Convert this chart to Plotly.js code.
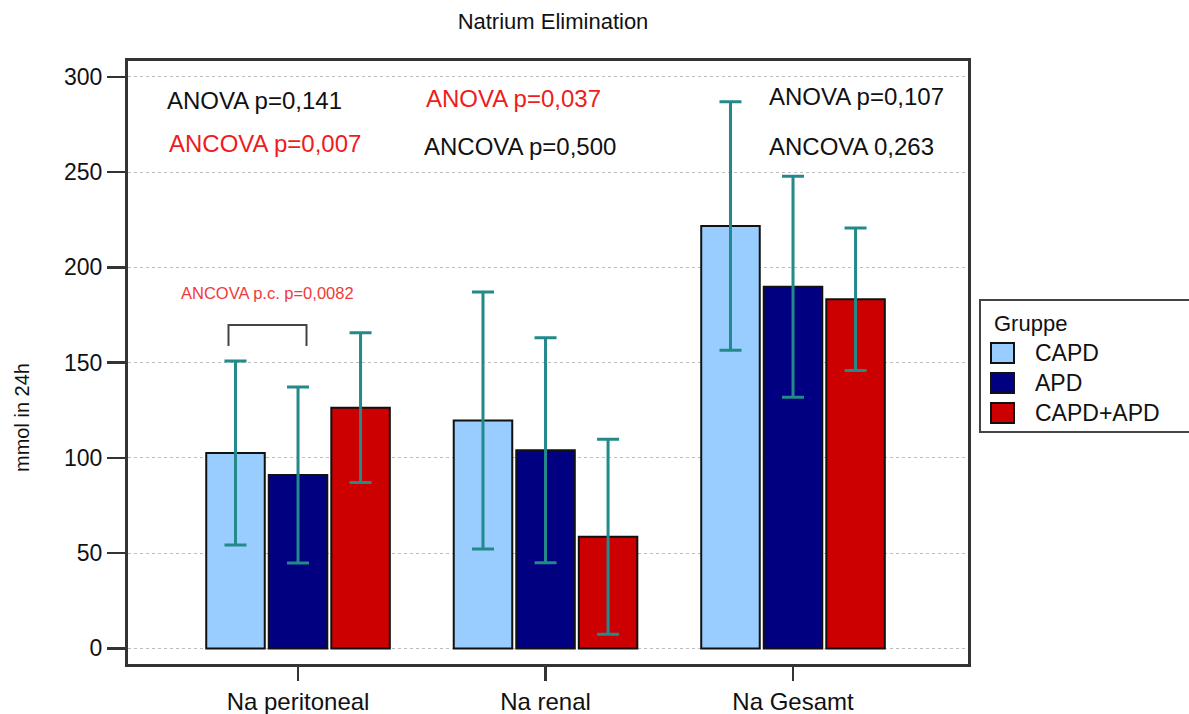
<!DOCTYPE html>
<html>
<head>
<meta charset="utf-8">
<script src="https://cdn.plot.ly/plotly-3.0.1.min.js"></script>
<style>html,body{margin:0;padding:0;background:#fff;}#chart{width:1189px;height:714px;}</style>
</head>
<body>
<div id="chart"></div>
<script>
// ---- data ----
const categories = ['Na peritoneal', 'Na renal', 'Na Gesamt'];
const groupNames = ['CAPD', 'APD', 'CAPD+APD'];
const capdMean  = [102.6, 119.6, 221.7];
const capdSD    = [48.3, 67.5, 65.2];
const apdMean   = [91.0, 104.0, 189.8];
const apdSD     = [46.2, 59.0, 58.0];
const comboMean = [126.3, 58.6, 183.2];
const comboSD   = [39.3, 51.2, 37.4];
const yTicks = [0, 50, 100, 150, 200, 250, 300];

// ---- styling ----
const FONT = '"Liberation Sans", Arial, sans-serif';
const colors = ['#99ccff', '#000080', '#cc0000'];
const errColor = '#23898a';
const L = 128, R = 968, T = 61, B = 664, W = 1189, H = 714;
const px = x => (x - L) / (R - L);
const py = y => (B - y) / (B - T);

const means = [capdMean, apdMean, comboMean];
const sds = [capdSD, apdSD, comboSD];

const traces = groupNames.map((g, i) => ({
  type: 'bar',
  name: g,
  x: categories,
  y: means[i],
  marker: {color: colors[i], line: {color: '#111', width: 2}},
  error_y: {type: 'data', array: sds[i], visible: true, color: errColor, thickness: 3, width: 11},
  showlegend: false,
  hoverinfo: 'x+y+name'
}));

const annotations = [
  {x: px(165), y: py(100), text: 'ANOVA p=0,141', color: '#111', size: 24},
  {x: px(167), y: py(143), text: 'ANCOVA p=0,007', color: '#ee1c1c', size: 24},
  {x: px(424), y: py(98), text: 'ANOVA p=0,037', color: '#ee1c1c', size: 24},
  {x: px(422), y: py(146), text: 'ANCOVA p=0,500', color: '#111', size: 24},
  {x: px(767), y: py(97), text: 'ANOVA p=0,107', color: '#111', size: 24},
  {x: px(767), y: py(146), text: 'ANCOVA 0,263', color: '#111', size: 24},
  {x: px(179), y: py(293), text: 'ANCOVA p.c. p=0,0082', color: '#f03a3a', size: 16.5}
].map(a => ({
  xref: 'paper', yref: 'paper', x: a.x, y: a.y, xanchor: 'left', yanchor: 'middle',
  text: a.text, showarrow: false, font: {family: FONT, size: a.size, color: a.color}
}));

// y axis title
annotations.push({
  xref: 'paper', yref: 'paper', x: px(22), y: py(418), xanchor: 'center', yanchor: 'middle',
  text: 'mmol in 24h', textangle: -90, showarrow: false, font: {family: FONT, size: 20, color: '#111'}
});

// bracket + custom legend
const shapes = [
  {type: 'path', xref: 'paper', yref: 'paper',
   path: `M${px(228.5)},${py(346)} L${px(228.5)},${py(325)} L${px(306.5)},${py(325)} L${px(306.5)},${py(346)}`,
   line: {color: '#444', width: 2}},
  {type: 'rect', xref: 'paper', yref: 'paper', x0: px(980), x1: px(1200), y0: py(300), y1: py(432),
   line: {color: '#444', width: 2}, fillcolor: 'rgba(0,0,0,0)'}
];
annotations.push({
  xref: 'paper', yref: 'paper', x: px(992), y: py(323), xanchor: 'left', yanchor: 'middle',
  text: 'Gruppe', showarrow: false, font: {family: FONT, size: 22, color: '#111'}
});
groupNames.forEach((g, i) => {
  const top = 343 + i * 30, bot = top + 20;
  shapes.push({type: 'rect', xref: 'paper', yref: 'paper', x0: px(991), x1: px(1014), y0: py(top), y1: py(bot),
    line: {color: '#111', width: 2}, fillcolor: colors[i]});
  annotations.push({
    xref: 'paper', yref: 'paper', x: px(1033), y: py((top + bot) / 2), xanchor: 'left', yanchor: 'middle',
    text: g, showarrow: false, font: {family: FONT, size: 23, color: '#111'}
  });
});

const layout = {
  width: W, height: H,
  margin: {l: L, r: W - R, t: T, b: H - B, pad: 0},
  paper_bgcolor: '#fff', plot_bgcolor: '#fff',
  font: {family: FONT, color: '#111'},
  title: {text: 'Natrium Elimination', x: px(553), xref: 'paper', xanchor: 'center',
          y: 1 - 21 / H, yref: 'container', yanchor: 'middle', font: {family: FONT, size: 22, color: '#111'}},
  barmode: 'group', bargap: 0.242, bargroupgap: 0.064,
  xaxis: {
    type: 'category', range: [-0.687, 2.707], fixedrange: true,
    showline: true, linecolor: '#333', linewidth: 3, mirror: true,
    ticks: 'outside', ticklen: 14, tickwidth: 2.5, tickcolor: '#333',
    showgrid: false, zeroline: false,
    tickfont: {family: FONT, size: 24, color: '#111'}
  },
  yaxis: {
    range: [-8.2, 308.3], tickvals: yTicks, ticktext: yTicks.map(String),
    showline: true, linecolor: '#333', linewidth: 3, mirror: true,
    ticks: 'outside', ticklen: 18, tickwidth: 2.5, tickcolor: '#333',
    showgrid: true, gridcolor: '#bdbdbd', gridwidth: 1, griddash: 'dot', zeroline: false,
    tickfont: {family: FONT, size: 23, color: '#111'}
  },
  annotations: annotations,
  shapes: shapes,
  showlegend: false
};

Plotly.newPlot('chart', traces, layout, {displayModeBar: false, staticPlot: true});
</script>
</body>
</html>
